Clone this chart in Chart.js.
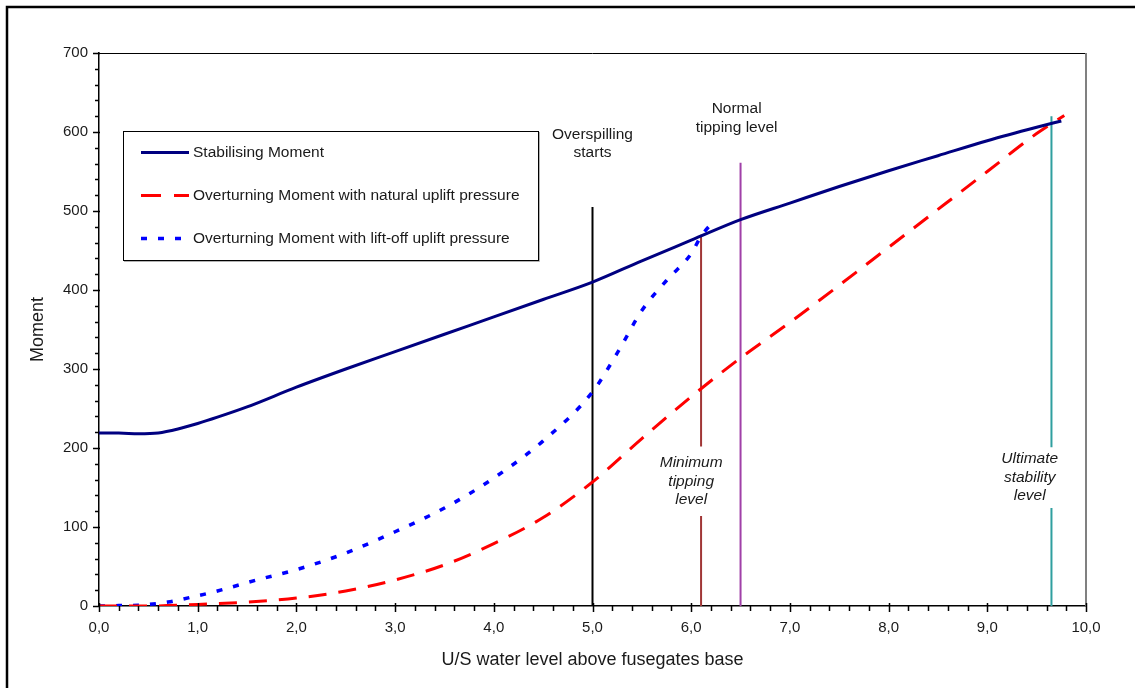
<!DOCTYPE html>
<html>
<head>
<meta charset="utf-8">
<script src="https://cdn.jsdelivr.net/npm/chart.js@4.4.1/dist/chart.umd.min.js"></script>
<style>
  html, body { margin: 0; padding: 0; background: #fff; }
  #chart { display: block; }
</style>
</head>
<body>
<canvas id="chart" width="1135" height="688"></canvas>
<script>
// water level (x) and moment (y)
const stabLevel = [0, 0.2, 0.4, 0.6, 0.8, 1.0, 1.2, 1.5, 2.0, 2.5, 3.0, 3.5, 4.0, 4.5, 5.0, 5.5, 6.0, 6.5, 7.0, 7.5, 8.0, 8.5, 9.0, 9.5, 9.75];
const stabMoment = [219, 219, 218, 219, 224, 231, 239, 252, 277, 300, 322, 344, 366, 388, 410, 437, 463, 489, 510, 531, 551, 570, 589, 606, 614];

const naturalLevel = [0, 0.5, 1.0, 1.5, 2.0, 2.5, 3.0, 3.5, 4.0, 4.5, 5.0, 5.5, 6.0, 6.5, 7.0, 7.5, 8.0, 8.5, 9.0, 9.5, 9.78];
const naturalMoment = [0, 0, 2, 5, 10, 19, 33, 52, 79, 112, 157, 212, 265, 314, 359, 406, 454, 502, 550, 598, 621];

const liftLevel = [0, 0.2, 0.4, 0.7, 1.0, 1.2, 1.6, 2.0, 2.5, 3.0, 3.5, 4.0, 4.5, 5.0, 5.25, 5.5, 5.75, 6.0, 6.1, 6.25];
const liftMoment = [0, 0.5, 1, 5, 13, 19, 33, 46, 67, 94, 124, 162, 209, 271, 320, 374, 412, 446, 468, 490];

const seriesNames = [
  "Stabilising Moment",
  "Overturning Moment with natural uplift pressure",
  "Overturning Moment with lift-off uplift pressure"
];

// marker levels: overspilling, minimum tipping, normal tipping, ultimate stability
const markerLevel = [5.0, 6.1, 6.5, 9.65];
const markerTop = [505, 470, 561, 620];
const markerGapLow = [null, 114, null, 124];
const markerGapHigh = [null, 202, null, 201];
const markerText = [
  ["Overspilling", "starts"],
  ["Minimum", "tipping", "level"],
  ["Normal", "tipping level"],
  ["Ultimate", "stability", "level"]
];

const xTickLabels = ["0,0", "1,0", "2,0", "3,0", "4,0", "5,0", "6,0", "7,0", "8,0", "9,0", "10,0"];
const yTickValues = [0, 100, 200, 300, 400, 500, 600, 700];

const FONT = "'Liberation Sans', Arial, sans-serif";

const toPoints = (xs, ys) => xs.map((x, i) => ({ x: x, y: ys[i] }));

const markerPoints = (i) => {
  const x = markerLevel[i];
  if (markerGapLow[i] === null) {
    return [{ x: x, y: 0 }, { x: x, y: markerTop[i] }];
  }
  return [
    { x: x, y: 0 }, { x: x, y: markerGapLow[i] },
    { x: x, y: null },
    { x: x, y: markerGapHigh[i] }, { x: x, y: markerTop[i] }
  ];
};

const markerColors = ["#000000", "#a03636", "#a040a8", "#2f9f9f"];
// label anchors in data units (centre x, y of first line)
const markerLabelPos = [
  { x: 5.0, y: 597, italic: false },
  { x: 6.0, y: 181, italic: true },
  { x: 6.46, y: 629, italic: false },
  { x: 9.43, y: 186, italic: true }
];

const curveSets = [
  {
    label: seriesNames[0],
    data: toPoints(stabLevel, stabMoment),
    borderColor: "#000080",
    borderWidth: 3,
    borderDash: [],
    order: 0
  },
  {
    label: seriesNames[1],
    data: toPoints(naturalLevel, naturalMoment),
    borderColor: "#ff0000",
    borderWidth: 3,
    borderDash: [18, 12],
    order: 1
  },
  {
    label: seriesNames[2],
    data: toPoints(liftLevel, liftMoment),
    borderColor: "#0000ff",
    borderWidth: 3.5,
    borderDash: [6, 11],
    order: 2
  }
].map((d) => Object.assign(d, {
  pointRadius: 0,
  fill: false,
  tension: 0.4,
  cubicInterpolationMode: "monotone"
}));

const markerSets = markerLevel.map((x, i) => ({
  label: "marker" + i,
  data: markerPoints(i),
  borderColor: markerColors[i],
  borderWidth: 2,
  pointRadius: 0,
  tension: 0,
  spanGaps: false,
  fill: false,
  order: 5
}));

const framePlugin = {
  id: "frame",
  beforeDraw(chart) {
    const ctx = chart.ctx;
    ctx.save();
    ctx.fillStyle = "#fff";
    ctx.fillRect(0, 0, chart.width, chart.height);
    ctx.strokeStyle = "#000";
    ctx.lineWidth = 2.5;
    ctx.beginPath();
    ctx.moveTo(7, chart.height + 2);
    ctx.lineTo(7, 7);
    ctx.lineTo(chart.width + 2, 7);
    ctx.stroke();
    ctx.restore();
  },
  afterDraw(chart) {
    const ctx = chart.ctx;
    const a = chart.chartArea;
    const xs = chart.scales.x;
    const ys = chart.scales.y;
    ctx.save();
    // plot area top and right edges
    ctx.strokeStyle = "#000";
    ctx.lineWidth = 1;
    ctx.beginPath();
    ctx.moveTo(a.left, a.top + 0.5);
    ctx.lineTo(a.right, a.top + 0.5);
    ctx.stroke();
    ctx.strokeStyle = "#808080";
    ctx.lineWidth = 2;
    ctx.beginPath();
    ctx.moveTo(a.right, a.top);
    ctx.lineTo(a.right, a.bottom);
    ctx.stroke();

    // ticks, major and minor
    ctx.strokeStyle = "#000";
    ctx.lineWidth = 1.5;
    ctx.beginPath();
    for (let k = 0; k <= 50; k++) {
      const px = Math.round(xs.getPixelForValue(k / 5)) + 0.5;
      const major = k % 5 === 0;
      ctx.moveTo(px, a.bottom - (major ? 3 : 0));
      ctx.lineTo(px, a.bottom + (major ? 6 : 5));
    }
    for (let k = 0; k <= 35; k++) {
      const py = Math.round(ys.getPixelForValue(k * 20)) + 0.5;
      const major = k % 5 === 0;
      ctx.moveTo(a.left + (major ? 1 : 0), py);
      ctx.lineTo(a.left - (major ? 6 : 4), py);
    }
    ctx.stroke();

    // marker captions
    ctx.fillStyle = "#1a1a1a";
    ctx.textAlign = "center";
    ctx.textBaseline = "middle";
    markerLabelPos.forEach((p, i) => {
      ctx.font = (p.italic ? "italic " : "") + "15.5px " + FONT;
      const cx = xs.getPixelForValue(p.x);
      const cy = ys.getPixelForValue(p.y);
      markerText[i].forEach((t, j) => ctx.fillText(t, cx, cy + j * 18.5));
    });

    // legend box
    const box = { left: 123, top: 131, right: 538, bottom: 260 };
    ctx.fillStyle = "#fff";
    ctx.fillRect(box.left, box.top, box.right - box.left, box.bottom - box.top);
    ctx.strokeStyle = "#999";
    ctx.lineWidth = 1.5;
    ctx.beginPath();
    ctx.moveTo(box.left + 1, box.bottom + 1);
    ctx.lineTo(box.right + 1, box.bottom + 1);
    ctx.lineTo(box.right + 1, box.top + 1);
    ctx.stroke();
    ctx.strokeStyle = "#000";
    ctx.lineWidth = 1;
    ctx.strokeRect(box.left + 0.5, box.top + 0.5, box.right - box.left, box.bottom - box.top);
    ctx.textAlign = "left";
    ctx.font = "15.5px " + FONT;
    curveSets.forEach((d, i) => {
      const y = 152.5 + i * 43;
      ctx.strokeStyle = d.borderColor;
      ctx.lineWidth = d.borderWidth;
      ctx.setLineDash(i === 1 ? [20, 13] : i === 2 ? [6, 11] : []);
      ctx.beginPath();
      ctx.moveTo(141, y);
      ctx.lineTo(189, y);
      ctx.stroke();
      ctx.setLineDash([]);
      ctx.fillStyle = "#1a1a1a";
      ctx.fillText(d.label, 193, y);
    });
    ctx.restore();
  }
};

new Chart(document.getElementById("chart"), {
  type: "line",
  data: { datasets: curveSets.concat(markerSets) },
  options: {
    responsive: false,
    animation: false,
    devicePixelRatio: 1,
    layout: { padding: { top: 53, right: 49, left: 0, bottom: 0 } },
    plugins: {
      legend: { display: false },
      tooltip: { enabled: false }
    },
    scales: {
      x: {
        type: "linear",
        min: 0,
        max: 10,
        afterFit(scale) { scale.height = 82; },
        afterBuildTicks(scale) {
          scale.ticks = xTickLabels.map((t, i) => ({ value: i }));
        },
        grid: { display: false, drawTicks: false },
        border: { display: true, color: "#000", width: 1.5 },
        ticks: {
          padding: 13,
          color: "#1a1a1a",
          font: { family: FONT, size: 15 },
          maxRotation: 0,
          autoSkip: false,
          callback: (v, i) => xTickLabels[i]
        },
        title: {
          display: true,
          text: "U/S water level above fusegates base",
          color: "#1a1a1a",
          font: { family: FONT, size: 18 },
          padding: { bottom: 17 }
        }
      },
      y: {
        min: 0,
        max: 700,
        afterFit(scale) { scale.width = 99; },
        afterBuildTicks(scale) {
          scale.ticks = yTickValues.map((v) => ({ value: v }));
        },
        grid: { display: false, drawTicks: false },
        border: { display: true, color: "#000", width: 1.5 },
        ticks: {
          padding: 11,
          color: "#1a1a1a",
          font: { family: FONT, size: 15 }
        },
        title: {
          display: true,
          text: "Moment",
          color: "#1a1a1a",
          font: { family: FONT, size: 18 },
          padding: { top: 27 }
        }
      }
    }
  },
  plugins: [framePlugin]
});
</script>
</body>
</html>
